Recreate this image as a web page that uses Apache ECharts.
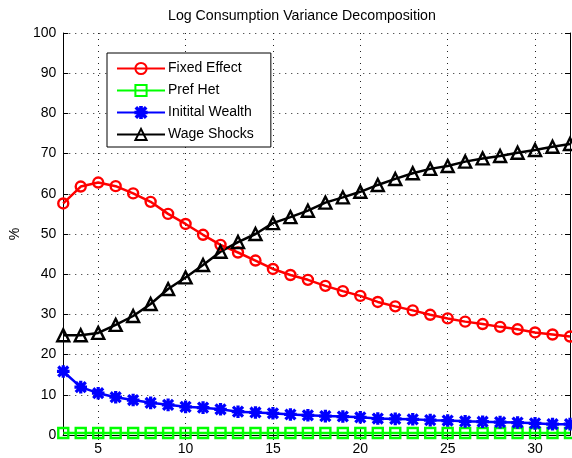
<!DOCTYPE html>
<html>
<head>
<meta charset="utf-8">
<script src="https://cdn.jsdelivr.net/npm/echarts@6/dist/echarts.min.js"></script>
<style>
  html, body { margin: 0; padding: 0; background: #fff; }
  #chart { width: 572px; height: 458px; }
</style>
</head>
<body>
<div id="chart"></div>
<script>
// Age index on the horizontal axis
const years = [3, 4, 5, 6, 7, 8, 9, 10, 11, 12, 13, 14, 15, 16, 17, 18, 19, 20,
               21, 22, 23, 24, 25, 26, 27, 28, 29, 30, 31, 32];

// Share of log consumption variance (%) attributed to each source
const fixedEffect = [57.6, 61.8, 62.8, 61.9, 60.1, 58.0, 55.0, 52.5, 49.8, 47.3,
                     45.4, 43.4, 41.3, 39.8, 38.6, 37.1, 35.8, 34.6, 33.1, 32.0,
                     31.0, 29.9, 29.0, 28.2, 27.6, 26.9, 26.3, 25.5, 25.0, 24.5];
const prefHet = [0.5, 0.5, 0.5, 0.5, 0.5, 0.5, 0.5, 0.5, 0.5, 0.5,
                 0.5, 0.5, 0.5, 0.5, 0.5, 0.5, 0.5, 0.5, 0.5, 0.5,
                 0.5, 0.5, 0.5, 0.5, 0.5, 0.5, 0.5, 0.5, 0.5, 0.5];
const initialWealth = [15.8, 11.9, 10.4, 9.4, 8.7, 8.0, 7.5, 7.0, 6.8, 6.4,
                       5.8, 5.6, 5.4, 5.1, 4.9, 4.7, 4.6, 4.4, 4.1, 4.0,
                       3.9, 3.7, 3.6, 3.4, 3.3, 3.2, 3.1, 2.9, 2.7, 2.7];
const wageShocks = [24.8, 24.8, 25.4, 27.4, 29.6, 32.6, 36.3, 39.2, 42.3, 45.6,
                    48.0, 50.0, 52.7, 54.2, 55.8, 57.8, 59.1, 60.5, 62.2, 63.7,
                    65.1, 66.2, 66.9, 68.0, 68.8, 69.4, 70.2, 70.9, 71.7, 72.4];

const seriesNames = ['Fixed Effect', 'Pref Het', 'Initital Wealth', 'Wage Shocks'];
const xTicks = [5, 10, 15, 20, 25, 30];
const yTicks = [0, 10, 20, 30, 40, 50, 60, 70, 80, 90, 100];

const FONT = '"Liberation Sans", Arial, Helvetica, sans-serif';

// eight-armed asterisk marker
const asterisk = 'path://M0 8.5L20 8.5L20 11.5L0 11.5Z' +
  'M8.5 0L11.5 0L11.5 20L8.5 20Z' +
  'M3.06 0.94L19.06 16.94L16.94 19.06L0.94 3.06Z' +
  'M19.06 3.06L3.06 19.06L0.94 16.94L16.94 0.94Z';

const onTick = (idx, val) => xTicks.indexOf(Number(val)) !== -1;

function lineSeries(name, data, color, symbol, size, hollow) {
  return {
    name: name,
    type: 'line',
    data: data,
    xAxisIndex: 0,
    yAxisIndex: 0,
    clip: false,
    symbol: symbol,
    symbolSize: size,
    showAllSymbol: true,
    lineStyle: { color: color, width: 2.5 },
    itemStyle: hollow
      ? { color: 'rgba(255,255,255,0)', borderColor: color, borderWidth: 2.4 }
      : { color: color, borderColor: color, borderWidth: 1.6 },
    emphasis: { disabled: true }
  };
}

const chart = echarts.init(document.getElementById('chart'), null, { renderer: 'canvas' });

chart.setOption({
  animation: false,
  backgroundColor: '#fff',
  textStyle: { fontFamily: FONT },
  title: {
    text: 'Log Consumption Variance Decomposition',
    left: 168,
    top: 9,
    padding: 0,
    textStyle: { fontFamily: FONT, fontSize: 14.2, fontWeight: 'normal', color: '#000' }
  },
  grid: { left: 62, right: 2, top: 33, bottom: 23, containLabel: false },
  legend: {
    data: seriesNames,
    orient: 'vertical',
    left: 107,
    top: 53,
    itemWidth: 48,
    itemHeight: 14,
    itemGap: 8,
    padding: [8.5, 17, 5.5, 9],
    backgroundColor: '#fff',
    borderColor: '#000',
    borderWidth: 1,
    borderRadius: 0,
    textStyle: { fontFamily: FONT, fontSize: 14, color: '#000', padding: [0, 0, 0, -2] }
  },
  xAxis: [
    {
      type: 'category',
      data: years,
      boundaryGap: false,
      position: 'bottom',
      axisLine: { lineStyle: { color: '#000', width: 1 } },
      axisTick: { inside: true, length: 5, interval: onTick, lineStyle: { color: '#000' } },
      axisLabel: { interval: onTick, margin: 7, color: '#000', fontSize: 14, fontFamily: FONT },
      splitLine: { show: true, interval: onTick, lineStyle: { color: '#222', type: [1, 5], width: 1 } }
    },
    {
      type: 'category',
      data: years,
      boundaryGap: false,
      position: 'top',
      axisLine: { lineStyle: { color: '#000', width: 1 } },
      axisTick: { inside: true, length: 5, interval: onTick, lineStyle: { color: '#000' } },
      axisLabel: { show: false },
      splitLine: { show: false }
    }
  ],
  yAxis: [
    {
      type: 'value',
      min: yTicks[0],
      max: yTicks[yTicks.length - 1],
      interval: 10,
      position: 'left',
      name: '%',
      nameLocation: 'middle',
      nameGap: 41,
      nameRotate: 90,
      nameTextStyle: { fontFamily: FONT, fontSize: 14, color: '#000' },
      axisLine: { show: true, lineStyle: { color: '#000', width: 1 } },
      axisTick: { show: true, inside: true, length: 5, lineStyle: { color: '#000' } },
      axisLabel: { margin: 7, color: '#000', fontSize: 14, fontFamily: FONT },
      splitLine: { show: true, lineStyle: { color: '#222', type: [1, 5], width: 1 } }
    },
    {
      type: 'value',
      min: yTicks[0],
      max: yTicks[yTicks.length - 1],
      interval: 10,
      position: 'right',
      axisLine: { show: true, lineStyle: { color: '#000', width: 1 } },
      axisTick: { show: true, inside: true, length: 5, lineStyle: { color: '#000' } },
      axisLabel: { show: false },
      splitLine: { show: false }
    }
  ],
  series: [
    lineSeries(seriesNames[0], fixedEffect, '#ff0000', 'circle', 10, true),
    lineSeries(seriesNames[1], prefHet, '#00ff00', 'rect', 10, true),
    lineSeries(seriesNames[2], initialWealth, '#0000ff', asterisk, 11, false),
    lineSeries(seriesNames[3], wageShocks, '#000000', 'triangle', 12, true)
  ]
});
</script>
</body>
</html>
